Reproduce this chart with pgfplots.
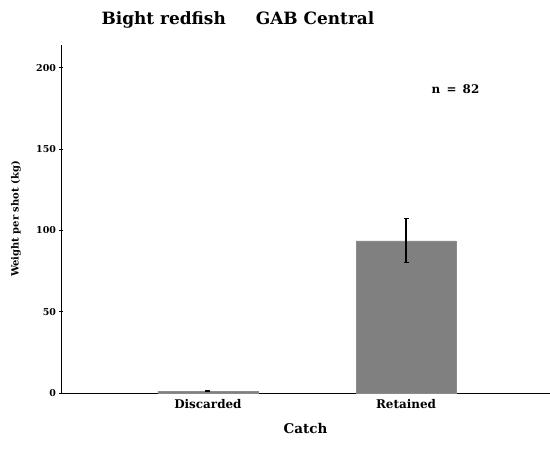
\documentclass[border=0pt]{standalone}
\usepackage{pgfplots}
\pgfplotsset{compat=1.18}
\usepackage{fontspec}
\setmainfont{DejaVu Serif}
\begin{document}
\begin{tikzpicture}
\path[use as bounding box] (0,0) rectangle (550bp,449bp);
\begin{axis}[
  at={(61bp,56bp)}, anchor=south west,
  scale only axis, width=489bp, height=348bp,
  xmin=0.258, xmax=2.727, ymin=0, ymax=214,
  axis lines=left, axis line style={-, line width=1pt},
  xtick={1,2}, xticklabels={Discarded,Retained},
  ytick={0,50,100,150,200},
  major x tick style={draw=none},
  major tick length=3bp, tick style={black, line width=0.8pt},
  y tick label style={font=\bfseries\fontsize{9.5}{10}\selectfont},
  x tick label style={font=\bfseries\fontsize{12}{13}\selectfont},
  xlabel={Catch}, ylabel={Weight per shot (kg)},
  xlabel style={font=\bfseries\fontsize{13.5}{14}\selectfont, at={(ticklabel cs:0.5)}, yshift=-8bp},
  ylabel style={font=\bfseries\fontsize{10}{11}\selectfont, at={(-45bp,0.5)}, anchor=center},
  /pgf/number format/assume math mode=true,
  clip=false,
  ybar, bar width=0.505,
]
\addplot[fill=black!50, draw=black!45, bar shift=0,
  error bars/.cd, y dir=both, y explicit,
  error bar style={line width=1.2pt, black},
  error mark options={rotate=90, mark size=2.5bp, line width=1pt, black}]
  coordinates {(1,1.2) +- (0,0.3) (2,93.5) +- (0,13.5)};
\node[font=\bfseries\fontsize{12}{13}\selectfont] at (axis cs:2.25,187) {n \,=\, 82};
\end{axis}
\node[anchor=west, font=\bfseries\fontsize{17}{19}\selectfont] at (98bp,429bp) {Bight redfish\hspace{30bp}GAB Central};
\end{tikzpicture}
\end{document}
